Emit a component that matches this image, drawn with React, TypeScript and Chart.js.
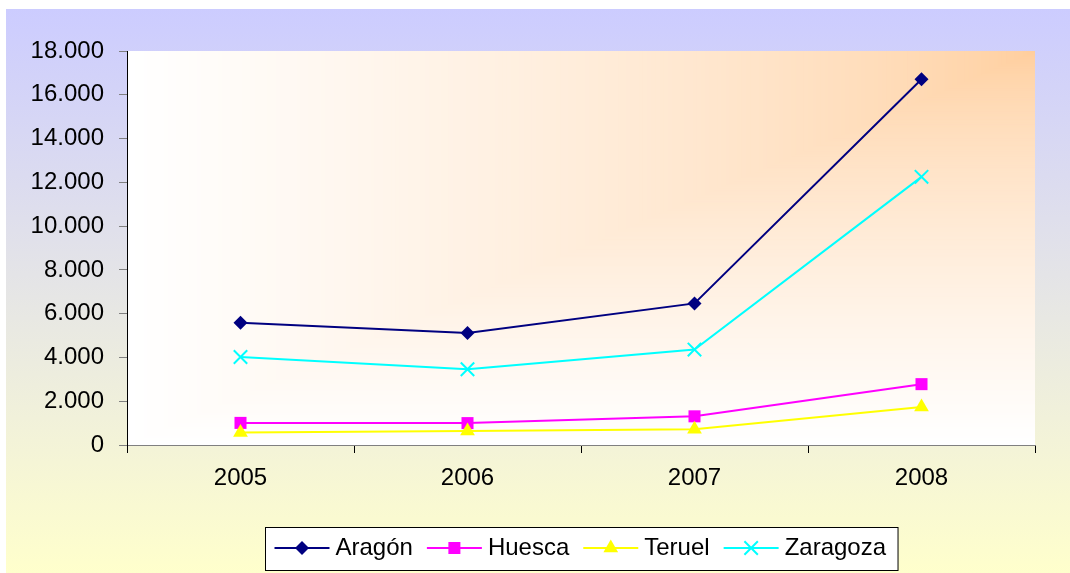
import React, { useEffect, useRef } from 'react';
import { Chart, registerables } from 'chart.js';

Chart.register(...registerables);

// ---- Data ----
const years = ['2005', '2006', '2007', '2008'];
const aragon = [5580, 5120, 6470, 16710];
const huesca = [1010, 1000, 1310, 2780];
const teruel = [570, 640, 720, 1740];
const zaragoza = [4020, 3460, 4360, 12250];
const seriesNames = ['Aragón', 'Huesca', 'Teruel', 'Zaragoza'];
const seriesColors = ['#000080', '#FF00FF', '#FFFF00', '#00FFFF'];
const seriesMarkers = ['rectRot', 'rect', 'triangle', 'crossRot'];
const markerRadius = [7, 8.5, 8.5, 9.5];
const yMin = 0;
const yMax = 18000;
const yStep = 2000;

const FONT = 'Liberation Sans, Arial, sans-serif';

const fmt = (v: number) => String(v).replace(/\B(?=(\d{3})+(?!\d))/g, '.');

function drawMarker(ctx: CanvasRenderingContext2D, style: string, x: number, y: number, r: number, color: string) {
  ctx.save();
  ctx.fillStyle = color;
  ctx.strokeStyle = color;
  ctx.lineWidth = 2;
  ctx.beginPath();
  if (style === 'rectRot') {
    ctx.moveTo(x, y - r);
    ctx.lineTo(x + r, y);
    ctx.lineTo(x, y + r);
    ctx.lineTo(x - r, y);
    ctx.closePath();
    ctx.fill();
  } else if (style === 'rect') {
    const s = r * Math.SQRT1_2;
    ctx.rect(x - s, y - s, 2 * s, 2 * s);
    ctx.fill();
  } else if (style === 'triangle') {
    const h = Math.sin(Math.PI / 3) * r;
    ctx.moveTo(x, y - r);
    ctx.lineTo(x + h, y + r / 2);
    ctx.lineTo(x - h, y + r / 2);
    ctx.closePath();
    ctx.fill();
  } else {
    const o = r * Math.SQRT1_2;
    ctx.moveTo(x - o, y - o);
    ctx.lineTo(x + o, y + o);
    ctx.moveTo(x + o, y - o);
    ctx.lineTo(x - o, y + o);
    ctx.stroke();
  }
  ctx.restore();
}

const backgroundPlugin = {
  id: 'bgPlugin',
  beforeDraw(chart: any) {
    const { ctx, chartArea, width, height } = chart;
    ctx.save();
    ctx.fillStyle = '#ffffff';
    ctx.fillRect(0, 0, width, height);
    const g = ctx.createLinearGradient(0, 9, 0, height);
    g.addColorStop(0, '#CCCCFF');
    g.addColorStop(1, '#FFFFCC');
    ctx.fillStyle = g;
    ctx.fillRect(6, 9, width - 6, height - 9);

    // plot area: rectangular gradient from the top-right corner
    const { left, right, top, bottom } = chartArea;
    const w = right - left;
    const h = bottom - top;
    const c0 = [255, 204, 153];
    const c1 = [255, 255, 255];
    const steps = 220;
    for (let i = steps; i >= 1; i--) {
      const t = i / steps;
      const f = Math.pow(t, 0.65);
      const col = c0.map((c, k) => Math.round(c + (c1[k] - c) * f));
      ctx.fillStyle = `rgb(${col[0]},${col[1]},${col[2]})`;
      ctx.fillRect(right - w * t, top, w * t, h * t);
    }
    ctx.restore();
  },
};

const legendPlugin = {
  id: 'boxLegend',
  afterDraw(chart: any) {
    const { ctx, chartArea } = chart;
    ctx.save();
    ctx.font = `24px ${FONT}`;
    const padL = 9;
    const padR = 12;
    const lineLen = 55;
    const gapText = 6;
    const gapItem = 14;
    const widths = seriesNames.map((n) => ctx.measureText(n).width);
    let total = padL + padR;
    widths.forEach((tw, i) => {
      total += lineLen + gapText + tw + (i < widths.length - 1 ? gapItem : 0);
    });
    const cx = (chartArea.left + chartArea.right) / 2;
    const bx = Math.round(cx - total / 2) + 0.5;
    const by = 527.5;
    const bh = 43;
    ctx.fillStyle = '#ffffff';
    ctx.fillRect(bx, by, total, bh);
    ctx.strokeStyle = '#000000';
    ctx.lineWidth = 1;
    ctx.strokeRect(bx, by, total, bh);
    let x = bx + padL;
    const ly = 548;
    seriesNames.forEach((name, i) => {
      ctx.strokeStyle = seriesColors[i];
      ctx.lineWidth = 2;
      ctx.beginPath();
      ctx.moveTo(x, ly);
      ctx.lineTo(x + lineLen, ly);
      ctx.stroke();
      drawMarker(ctx, seriesMarkers[i], x + lineLen / 2, ly, markerRadius[i], seriesColors[i]);
      x += lineLen + gapText;
      ctx.fillStyle = '#000000';
      ctx.textBaseline = 'alphabetic';
      ctx.textAlign = 'left';
      ctx.fillText(name, x, 555);
      x += widths[i] + gapItem;
    });
    ctx.restore();
  },
};

export default function App() {
  const ref = useRef<HTMLCanvasElement | null>(null);
  useEffect(() => {
    if (!ref.current) return;
    const seriesData = [aragon, huesca, teruel, zaragoza];
    const chart = new Chart(ref.current, {
      type: 'line',
      data: {
        labels: years,
        datasets: seriesNames.map((name, i) => ({
          label: name,
          data: seriesData[i],
          borderColor: seriesColors[i],
          backgroundColor: seriesColors[i],
          borderWidth: 2,
          tension: 0,
          fill: false,
          pointStyle: seriesMarkers[i] as any,
          pointRadius: markerRadius[i],
          pointHoverRadius: markerRadius[i],
          pointBorderColor: seriesColors[i],
          pointBackgroundColor: seriesColors[i],
          pointBorderWidth: seriesMarkers[i] === 'crossRot' ? 2 : 0,
          order: seriesNames.length - i,
          clip: false as any,
        })),
      },
      options: {
        animation: false,
        responsive: false,
        devicePixelRatio: 1,
        events: [],
        layout: { padding: { left: 0, top: 51, right: 35, bottom: 0 } },
        plugins: {
          legend: { display: false },
          tooltip: { enabled: false },
          title: { display: false },
        },
        scales: {
          x: {
            type: 'category',
            offset: true,
            grid: {
              offset: true,
              drawOnChartArea: false,
              drawTicks: true,
              tickLength: 8,
              tickColor: '#000000',
              tickWidth: 1,
            },
            border: { color: '#808080', width: 1 },
            ticks: {
              color: '#000000',
              font: { family: FONT, size: 24 },
              padding: 11,
              maxRotation: 0,
              autoSkip: false,
            },
            afterFit: (s: any) => {
              s.height = 128;
            },
          },
          y: {
            min: yMin,
            max: yMax,
            grid: {
              drawOnChartArea: false,
              drawTicks: true,
              tickLength: 8,
              tickColor: '#808080',
              tickWidth: 1,
            },
            border: { color: '#000000', width: 1 },
            ticks: {
              stepSize: yStep,
              color: '#000000',
              font: { family: FONT, size: 24 },
              padding: 15,
              callback: (v: any) => fmt(Number(v)),
            },
            afterFit: (s: any) => {
              s.width = 127;
            },
          },
        },
      },
      plugins: [backgroundPlugin, legendPlugin],
    });
    return () => chart.destroy();
  }, []);
  return (
    <div style={{ position: 'absolute', left: 0, top: 0, width: 1070, height: 573 }}>
      <canvas ref={ref} width={1070} height={573} style={{ width: 1070, height: 573, display: 'block' }} />
    </div>
  );
}
